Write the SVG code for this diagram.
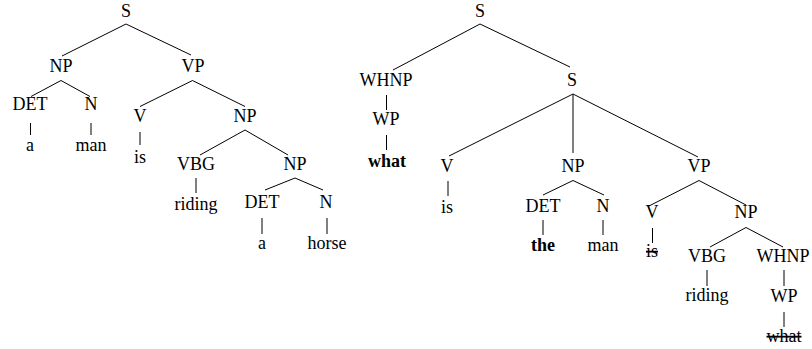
<svg xmlns="http://www.w3.org/2000/svg" width="812" height="349" viewBox="0 0 812 349">
<style>
.b{font-weight:bold}
.s{text-decoration:line-through}
#edges line{stroke:#000;stroke-width:1}
</style>
<rect width="812" height="349" fill="#fff"/>
<g id="edges">
<line x1="126" y1="24" x2="62" y2="56"/>
<line x1="126" y1="24" x2="191" y2="55"/>
<line x1="61" y1="80.5" x2="31" y2="96.5"/>
<line x1="61" y1="80.5" x2="90" y2="96.5"/>
<line x1="30.5" y1="123" x2="30.5" y2="135"/>
<line x1="91" y1="123" x2="91" y2="135"/>
<line x1="192.5" y1="80.5" x2="140" y2="106.5"/>
<line x1="192.5" y1="80.5" x2="245" y2="106.5"/>
<line x1="140" y1="132" x2="140" y2="145"/>
<line x1="245" y1="130" x2="200" y2="155"/>
<line x1="245" y1="130" x2="288" y2="155"/>
<line x1="196" y1="178" x2="196" y2="193"/>
<line x1="295" y1="178" x2="265" y2="190"/>
<line x1="295" y1="178" x2="323" y2="190"/>
<line x1="262" y1="218" x2="262" y2="234"/>
<line x1="327" y1="218" x2="327" y2="234"/>
<line x1="480" y1="24" x2="393" y2="70"/>
<line x1="480" y1="24" x2="570" y2="67"/>
<line x1="386.5" y1="95" x2="386.5" y2="110"/>
<line x1="386.5" y1="135" x2="386.5" y2="150"/>
<line x1="573" y1="94" x2="449" y2="156"/>
<line x1="573" y1="94" x2="573" y2="153"/>
<line x1="573" y1="94" x2="698" y2="157"/>
<line x1="448" y1="181" x2="448" y2="196"/>
<line x1="573" y1="180.5" x2="543" y2="195"/>
<line x1="573" y1="180.5" x2="604" y2="195"/>
<line x1="543" y1="220" x2="543" y2="235"/>
<line x1="603" y1="220" x2="603" y2="235"/>
<line x1="699" y1="180.5" x2="649" y2="206"/>
<line x1="699" y1="180.5" x2="746" y2="205"/>
<line x1="652.5" y1="228" x2="652.5" y2="243"/>
<line x1="746" y1="227.5" x2="710" y2="247"/>
<line x1="746" y1="227.5" x2="783" y2="247"/>
<line x1="707" y1="270" x2="707" y2="286"/>
<line x1="784" y1="270" x2="784" y2="286"/>
<line x1="784" y1="312" x2="784" y2="327"/>
</g>
<g id="nodes" font-family="Liberation Serif, Times New Roman, serif" font-size="18" fill="#000" text-anchor="middle">
<g id="n-S1"><text x="126" y="17">S</text></g>
<g id="n-NP1"><text x="61" y="72">NP</text></g>
<g id="n-VP1"><text x="193" y="72">VP</text></g>
<g id="n-DET1"><text x="30" y="110">DET</text></g>
<g id="n-N1"><text x="91" y="110">N</text></g>
<g id="n-a1"><text x="30" y="151">a</text></g>
<g id="n-man1"><text x="91" y="151">man</text></g>
<g id="n-V1"><text x="140" y="122">V</text></g>
<g id="n-NP2"><text x="245" y="122">NP</text></g>
<g id="n-is1"><text x="140" y="163">is</text></g>
<g id="n-VBG1"><text x="196" y="170">VBG</text></g>
<g id="n-NP3"><text x="295" y="170">NP</text></g>
<g id="n-riding1"><text x="196" y="210">riding</text></g>
<g id="n-DET2"><text x="262" y="208">DET</text></g>
<g id="n-N2"><text x="326" y="208">N</text></g>
<g id="n-a2"><text x="262" y="249">a</text></g>
<g id="n-horse"><text x="327" y="249">horse</text></g>
<g id="n-S2"><text x="480" y="17">S</text></g>
<g id="n-WHNP1"><text x="386" y="86">WHNP</text></g>
<g id="n-S3"><text x="572" y="86">S</text></g>
<g id="n-WP1"><text x="386" y="125">WP</text></g>
<g id="n-what1"><text class="b" x="387" y="167">what</text></g>
<g id="n-V2"><text x="447" y="172">V</text></g>
<g id="n-NP4"><text x="573" y="172">NP</text></g>
<g id="n-VP2"><text x="699" y="172">VP</text></g>
<g id="n-is2"><text x="447" y="213">is</text></g>
<g id="n-DET3"><text x="543" y="212">DET</text></g>
<g id="n-N3"><text x="603" y="212">N</text></g>
<g id="n-the"><text class="b" x="543" y="251">the</text></g>
<g id="n-man2"><text x="603" y="251">man</text></g>
<g id="n-V3"><text x="652" y="218">V</text></g>
<g id="n-NP5"><text x="746" y="218">NP</text></g>
<g id="n-is3"><text class="s" x="652" y="257">is</text></g>
<g id="n-VBG2"><text x="707" y="262">VBG</text></g>
<g id="n-WHNP2"><text x="783" y="262">WHNP</text></g>
<g id="n-riding2"><text x="707" y="301">riding</text></g>
<g id="n-WP2"><text x="784" y="302">WP</text></g>
<g id="n-what2"><text class="s" x="784" y="342">what</text></g>
</g>
</svg>
